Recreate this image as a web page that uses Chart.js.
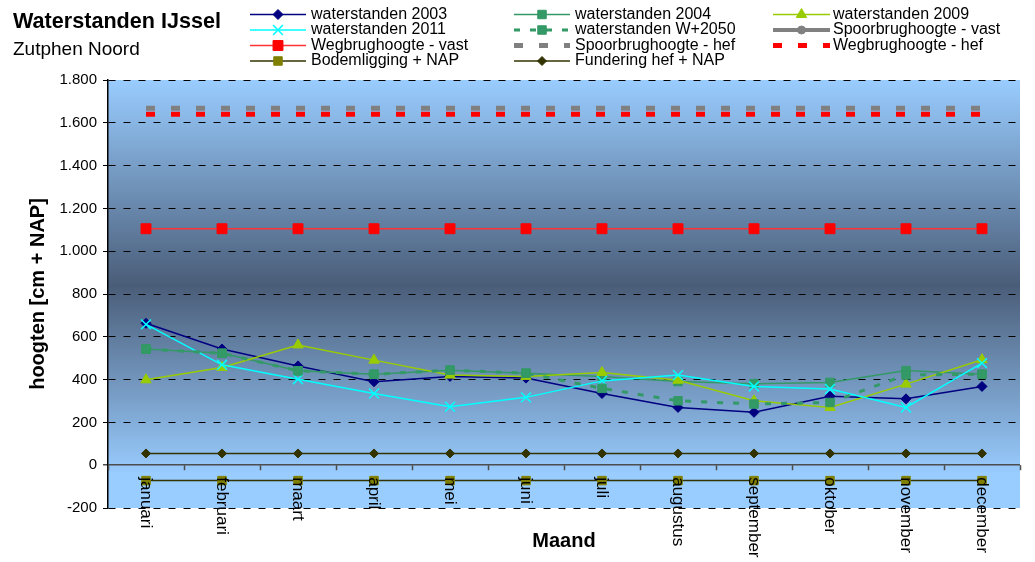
<!DOCTYPE html>
<html>
<head>
<meta charset="utf-8">
<title>Waterstanden IJssel - Zutphen Noord</title>
<script src="https://cdn.jsdelivr.net/npm/chart.js@4/dist/chart.umd.min.js"></script>
<style>
  html, body { margin: 0; padding: 0; background: #ffffff; }
  canvas { display: block; }
</style>
</head>
<body>
<canvas id="chart" width="1035" height="562"></canvas>
<script>
// Maanden (categorie-as)
const maanden = ['januari', 'februari', 'maart', 'april', 'mei', 'juni', 'juli',
                 'augustus', 'september', 'oktober', 'november', 'december'];

// Gemeten waterstanden [cm + NAP]
const waterstanden2003 = [663, 543, 464, 390, 415, 407, 335, 270, 247, 322, 310, 368];
const waterstanden2004 = [543, 523, 441, 425, 444, 430, 415, 391, 381, 387, 442, 425];
const waterstanden2009 = [399, 457, 562, 491, 421, 415, 433, 397, 301, 270, 379, 493];
const waterstanden2011 = [658, 469, 402, 335, 273, 317, 394, 421, 368, 356, 270, 477];
const waterstandenW2050 = [543, 523, 441, 425, 444, 430, 359, 301, 286, 293, 422, 425];

// Vaste hoogten van bruggen, bodem en fundering [cm + NAP]
const spoorbrugVast = [null, null, null, null, null, null, null, null, null, null, null, null];
const wegbrugVast = [1105, 1105, 1105, 1105, 1105, 1105, 1105, 1105, 1105, 1105, 1105, 1105];
const spoorbrugHef = [1668, 1668, 1668, 1668, 1668, 1668, 1668, 1668, 1668, 1668, 1668, 1668];
const wegbrugHef = [1640, 1640, 1640, 1640, 1640, 1640, 1640, 1640, 1640, 1640, 1640, 1640];
const bodemligging = [-72, -72, -72, -72, -72, -72, -72, -72, -72, -72, -72, -72];
const fundering = [55, 55, 55, 55, 55, 55, 55, 55, 55, 55, 55, 55];

// Y-as
const yMin = -200;
const yMax = 1800;
const yStap = 200;

const titel = 'Waterstanden IJssel';
const ondertitel = 'Zutphen Noord';
const yTitel = 'hoogten [cm + NAP]';
const xTitel = 'Maand';

const FONT = 'Arial, "Liberation Sans", sans-serif';

function lijn(label, data, kleur, opts) {
  return Object.assign({
    label: label,
    data: data,
    borderColor: kleur,
    backgroundColor: kleur,
    pointBackgroundColor: kleur,
    pointBorderColor: kleur,
    borderWidth: 1.5,
    pointBorderWidth: 1,
    pointRadius: 5,
    pointHoverRadius: 5,
    tension: 0,
    fill: false,
    spanGaps: false
  }, opts || {});
}

const datasets = [
  lijn('waterstanden 2003', waterstanden2003, '#000080', { pointStyle: 'rectRot', pointRadius: 5 }),
  lijn('waterstanden 2004', waterstanden2004, '#339966', { pointStyle: 'rect', pointRadius: 6 }),
  lijn('waterstanden 2009', waterstanden2009, '#99CC00', { pointStyle: 'triangle', pointRadius: 6 }),
  lijn('waterstanden 2011', waterstanden2011, '#00FFFF', { pointStyle: 'crossRot', pointRadius: 7, pointBorderWidth: 1.5 }),
  lijn('waterstanden W+2050', waterstandenW2050, '#339966', { pointStyle: 'rect', pointRadius: 6, borderWidth: 3, borderDash: [6, 10] }),
  lijn('Spoorbrughoogte - vast', spoorbrugVast, '#808080', { pointStyle: 'circle', pointRadius: 4, borderWidth: 4 }),
  lijn('Wegbrughoogte - vast', wegbrugVast, '#FF0000', { pointStyle: 'rect', pointRadius: 7, borderWidth: 1.5, borderColor: '#FF3333' }),
  lijn('Spoorbrughoogte - hef', spoorbrugHef, '#808080', { pointRadius: 0, borderWidth: 5, borderDash: [9, 16] }),
  lijn('Wegbrughoogte - hef', wegbrugHef, '#FF0000', { pointRadius: 0, borderWidth: 5, borderDash: [9, 16] }),
  lijn('Bodemligging + NAP', bodemligging, '#333300', { pointStyle: 'rect', pointRadius: 6, pointBackgroundColor: '#808000', pointBorderColor: '#808000' }),
  lijn('Fundering hef + NAP', fundering, '#333300', { pointStyle: 'rectRot', pointRadius: 4.5 })
];
// latere reeksen liggen bovenop
datasets.forEach((ds, i) => { ds.order = -i; });

function duizendtal(v) {
  return String(v).replace(/\B(?=(\d{3})+(?!\d))/g, '.');
}

// Achtergrond van het plotvlak: verloop licht - donker - licht
const achtergrond = {
  id: 'achtergrond',
  beforeDraw(chart) {
    const { ctx, chartArea: a } = chart;
    const g = ctx.createLinearGradient(0, a.top, 0, a.bottom);
    g.addColorStop(0, '#99CCFF');
    g.addColorStop(0.48, '#4A5D78');
    g.addColorStop(0.92, '#99CCFF');
    g.addColorStop(1, '#99CCFF');
    ctx.save();
    ctx.fillStyle = g;
    ctx.fillRect(a.left, a.top, a.right - a.left, a.bottom - a.top);
    ctx.restore();
  }
};

// Maandlabels en streepjes langs de nullijn, as-titel eronder
const maandAs = {
  id: 'maandAs',
  afterDatasetsDraw(chart) {
    const { ctx, scales: { x, y }, chartArea: a } = chart;
    const y0 = y.getPixelForValue(0);
    ctx.save();
    ctx.strokeStyle = '#4D4D4D';
    ctx.lineWidth = 1.5;
    for (let i = 0; i <= maanden.length; i++) {
      const px = Math.round(x.getPixelForValue(i - 0.5)) + 0.5;
      ctx.beginPath();
      ctx.moveTo(px, y0);
      ctx.lineTo(px, y0 + 5);
      ctx.stroke();
    }
    ctx.fillStyle = '#000';
    ctx.font = '17px ' + FONT;
    ctx.textAlign = 'left';
    ctx.textBaseline = 'middle';
    maanden.forEach((m, i) => {
      const px = x.getPixelForValue(i);
      ctx.save();
      ctx.translate(px, y0 + 12);
      ctx.rotate(Math.PI / 2);
      ctx.fillText(m, 0, 0);
      ctx.restore();
    });
    ctx.font = 'bold 20px ' + FONT;
    ctx.textAlign = 'center';
    ctx.fillText(xTitel, (a.left + a.right) / 2, 541);
    ctx.restore();
  }
};

// Titel en legenda in drie kolommen
const legendaKolommen = [
  { x0: 250, x1: 306, tx: 311 },
  { x0: 514, x1: 570, tx: 575 },
  { x0: 773, x1: 830, tx: 833 }
];
const legendaRijen = [14.5, 30, 45.5, 61];

function tekenMarker(ctx, ds, x, y) {
  if (!ds.pointRadius) return;
  ctx.fillStyle = ds.pointBackgroundColor;
  ctx.strokeStyle = ds.pointBorderColor;
  ctx.lineWidth = ds.pointBorderWidth;
  ctx.setLineDash([]);
  Chart.helpers.drawPoint(ctx, {
    pointStyle: ds.pointStyle,
    rotation: 0,
    radius: ds.pointRadius,
    borderWidth: ds.pointBorderWidth
  }, x, y);
}

const legenda = {
  id: 'legenda',
  afterDraw(chart) {
    const { ctx } = chart;
    ctx.save();
    ctx.fillStyle = '#000';
    ctx.textAlign = 'left';
    ctx.textBaseline = 'alphabetic';
    ctx.font = 'bold 21.6px ' + FONT;
    ctx.fillText(titel, 13, 28);
    ctx.font = '19px ' + FONT;
    ctx.fillText(ondertitel, 13, 55);

    chart.data.datasets.forEach((ds, i) => {
      const k = legendaKolommen[i % 3];
      const ry = legendaRijen[Math.floor(i / 3)];
      ctx.save();
      ctx.strokeStyle = ds.borderColor;
      ctx.lineWidth = ds.borderWidth;
      ctx.setLineDash(ds.borderDash || []);
      ctx.lineCap = 'butt';
      ctx.beginPath();
      ctx.moveTo(k.x0, ry);
      ctx.lineTo(k.x1, ry);
      ctx.stroke();
      tekenMarker(ctx, ds, (k.x0 + k.x1) / 2, ry);
      ctx.restore();
      ctx.fillStyle = '#000';
      ctx.font = '16px ' + FONT;
      ctx.textBaseline = 'middle';
      ctx.fillText(ds.label, k.tx, ry);
    });
    ctx.restore();
  }
};

new Chart(document.getElementById('chart'), {
  type: 'line',
  data: { labels: maanden, datasets: datasets },
  options: {
    responsive: false,
    animation: false,
    events: [],
    layout: { padding: { left: 0, top: 80, right: 15, bottom: 54 } },
    plugins: {
      legend: { display: false },
      tooltip: { enabled: false },
      title: { display: false }
    },
    scales: {
      x: {
        type: 'category',
        offset: true,
        display: false
      },
      y: {
        min: yMin,
        max: yMax,
        afterFit(scale) { scale.width = 108; },
        ticks: {
          stepSize: yStap,
          color: '#000',
          font: { family: FONT, size: 15 },
          padding: 6,
          callback: (v) => duizendtal(v)
        },
        grid: {
          color: (c) => (c.tick && c.tick.value === 0) ? '#4D4D4D' : '#000000',
          lineWidth: (c) => (c.tick && c.tick.value === 0) ? 1.5 : 1,
          tickLength: 5
        },
        border: {
          display: true,
          color: '#000000',
          width: 1.5,
          dash: (c) => (c.type === 'tick' && c.tick && c.tick.value !== 0) ? [7, 8] : []
        },
        title: {
          display: true,
          text: yTitel,
          color: '#000',
          font: { family: FONT, size: 20, weight: 'bold' },
          padding: { top: 26, bottom: 0 }
        }
      }
    }
  },
  plugins: [achtergrond, maandAs, legenda]
});
</script>
</body>
</html>
